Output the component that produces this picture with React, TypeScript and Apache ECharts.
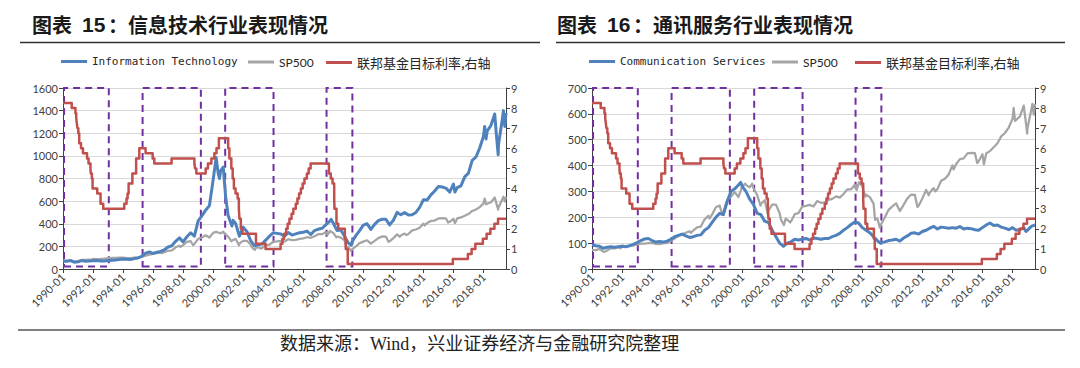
import React, { useEffect, useRef } from "react";
import * as echarts from "echarts";

// ---------- data ----------
const xLabelYears = [1990, 1992, 1994, 1996, 1998, 2000, 2002, 2004, 2006, 2008, 2010, 2012, 2014, 2016, 2018];

// periods framed by the dashed purple boxes (start year, end year)
const shadedPeriods: [number, number][] = [
  [1990.07, 1993.05],
  [1995.3, 1999.18],
  [2000.8, 2004.02],
  [2007.55, 2009.27],
];

const itIndex: [number, number][] = [
  [1990.0, 68], [1990.25, 68], [1990.5, 74], [1990.75, 60], [1991.0, 63], [1991.25, 74], [1991.5, 68], [1991.75, 70],
  [1992.0, 74], [1992.25, 76], [1992.5, 70], [1992.75, 71], [1993.0, 76], [1993.25, 78], [1993.5, 80], [1993.75, 84],
  [1994.0, 88], [1994.25, 86], [1994.5, 84], [1994.75, 92], [1995.0, 98], [1995.25, 112], [1995.5, 140], [1995.75, 150],
  [1996.0, 138], [1996.25, 148], [1996.5, 155], [1996.75, 170], [1997.0, 195], [1997.25, 205], [1997.5, 245], [1997.75, 275],
  [1998.0, 240], [1998.25, 285], [1998.5, 320], [1998.75, 290], [1999.0, 425], [1999.25, 470], [1999.5, 520], [1999.75, 560],
  [2000.0, 790], [2000.2, 985], [2000.33, 850], [2000.42, 800], [2000.5, 870], [2000.67, 900], [2000.83, 640], [2001.0, 470],
  [2001.25, 380], [2001.33, 430], [2001.5, 400], [2001.75, 290], [2002.0, 370], [2002.25, 330], [2002.5, 250], [2002.75, 205],
  [2003.0, 215], [2003.25, 220], [2003.5, 255], [2003.75, 290], [2004.0, 320], [2004.25, 315], [2004.5, 310], [2004.75, 290],
  [2005.0, 322], [2005.25, 300], [2005.5, 310], [2005.75, 320], [2006.0, 325], [2006.25, 335], [2006.5, 305], [2006.75, 340],
  [2007.0, 352], [2007.25, 360], [2007.5, 390], [2007.75, 420], [2007.85, 440], [2008.0, 404], [2008.25, 340], [2008.5, 345],
  [2008.75, 290], [2009.0, 229], [2009.2, 210], [2009.25, 240], [2009.5, 295], [2009.75, 340], [2010.0, 388], [2010.25, 400],
  [2010.5, 350], [2010.75, 395], [2011.0, 428], [2011.25, 440], [2011.5, 440], [2011.75, 390], [2012.0, 431], [2012.25, 500],
  [2012.5, 480], [2012.75, 500], [2013.0, 478], [2013.25, 480], [2013.5, 500], [2013.75, 545], [2014.0, 612], [2014.25, 610],
  [2014.5, 655], [2014.75, 690], [2015.0, 730], [2015.25, 725], [2015.5, 715], [2015.75, 680], [2016.0, 750], [2016.1, 680],
  [2016.25, 720], [2016.5, 735], [2016.75, 815], [2017.0, 847], [2017.25, 960], [2017.5, 990], [2017.75, 1070], [2018.0, 1174],
  [2018.08, 1260], [2018.17, 1150], [2018.25, 1220], [2018.5, 1270], [2018.75, 1370], [2018.85, 1200], [2018.98, 1010],
  [2019.0, 1100], [2019.25, 1320], [2019.33, 1400], [2019.42, 1260], [2019.5, 1380],
];

const sp500: [number, number][] = [
  [1990.0, 74], [1990.25, 73], [1990.5, 78], [1990.62, 72], [1990.8, 66], [1991.0, 71], [1991.25, 81], [1991.5, 80],
  [1991.75, 84], [1991.9, 80], [1992.0, 90], [1992.25, 88], [1992.5, 89], [1992.75, 91], [1993.0, 95], [1993.25, 98],
  [1993.5, 98], [1993.75, 100], [1994.0, 101], [1994.25, 97], [1994.5, 96], [1994.75, 100], [1995.0, 100], [1995.25, 109],
  [1995.5, 118], [1995.75, 127], [1996.0, 134], [1996.25, 140], [1996.5, 146], [1996.58, 140], [1996.75, 149], [1997.0, 161],
  [1997.25, 164], [1997.5, 192], [1997.75, 206], [1997.83, 195], [1998.0, 211], [1998.25, 239], [1998.5, 246], [1998.67, 210],
  [1998.75, 221], [1999.0, 267], [1999.25, 279], [1999.5, 298], [1999.75, 278], [2000.0, 319], [2000.2, 330], [2000.25, 325],
  [2000.5, 316], [2000.67, 330], [2000.75, 312], [2001.0, 286], [2001.22, 245], [2001.25, 252], [2001.5, 266], [2001.72, 210],
  [2001.75, 226], [2002.0, 249], [2002.25, 249], [2002.5, 215], [2002.58, 192], [2002.78, 170], [2002.9, 195], [2003.0, 191],
  [2003.2, 180], [2003.25, 184], [2003.5, 212], [2003.75, 216], [2004.0, 241], [2004.25, 244], [2004.5, 248], [2004.75, 242],
  [2005.0, 263], [2005.25, 256], [2005.5, 258], [2005.75, 267], [2006.0, 271], [2006.25, 281], [2006.5, 276], [2006.75, 290],
  [2007.0, 308], [2007.25, 308], [2007.5, 326], [2007.62, 305], [2007.78, 336], [2008.0, 319], [2008.2, 280], [2008.25, 287],
  [2008.5, 278], [2008.75, 253], [2008.85, 190], [2009.0, 196], [2009.17, 160], [2009.25, 173], [2009.5, 199], [2009.75, 229],
  [2010.0, 242], [2010.25, 254], [2010.5, 224], [2010.75, 248], [2011.0, 273], [2011.25, 288], [2011.5, 287], [2011.67, 240],
  [2011.75, 245], [2012.0, 273], [2012.25, 306], [2012.42, 285], [2012.5, 296], [2012.75, 313], [2012.87, 300], [2013.0, 309],
  [2013.25, 341], [2013.5, 349], [2013.75, 365], [2014.0, 401], [2014.08, 385], [2014.25, 406], [2014.5, 425], [2014.75, 428],
  [2015.0, 447], [2015.25, 449], [2015.5, 448], [2015.65, 410], [2015.75, 417], [2016.0, 444], [2016.1, 405], [2016.25, 447],
  [2016.5, 456], [2016.75, 471], [2017.0, 486], [2017.25, 513], [2017.5, 526], [2017.75, 547], [2018.0, 580], [2018.08, 623],
  [2018.17, 573], [2018.5, 590], [2018.75, 632], [2018.85, 585], [2018.98, 524], [2019.0, 544], [2019.25, 615], [2019.33, 639],
  [2019.42, 597], [2019.5, 638],
];

const commServices: [number, number][] = [
  [1990.0, 94], [1990.25, 90], [1990.5, 88], [1990.75, 80], [1991.0, 84], [1991.25, 86], [1991.5, 84], [1991.75, 86],
  [1992.0, 88], [1992.25, 86], [1992.5, 90], [1992.75, 95], [1993.0, 102], [1993.25, 110], [1993.5, 116], [1993.75, 118],
  [1994.0, 110], [1994.25, 104], [1994.5, 106], [1994.75, 104], [1995.0, 108], [1995.25, 115], [1995.5, 125], [1995.75, 130],
  [1996.0, 135], [1996.25, 128], [1996.5, 122], [1996.75, 125], [1997.0, 130], [1997.25, 132], [1997.5, 150], [1997.75, 160],
  [1998.0, 180], [1998.25, 200], [1998.5, 215], [1998.75, 210], [1999.0, 260], [1999.25, 300], [1999.5, 310], [1999.75, 325],
  [1999.9, 335], [2000.0, 320], [2000.25, 300], [2000.5, 270], [2000.75, 250], [2001.0, 215], [2001.25, 210], [2001.5, 185],
  [2001.75, 180], [2002.0, 150], [2002.25, 125], [2002.5, 100], [2002.75, 88], [2003.0, 100], [2003.25, 105], [2003.5, 115],
  [2003.75, 112], [2004.0, 115], [2004.25, 118], [2004.5, 112], [2004.75, 120], [2005.0, 118], [2005.25, 115], [2005.5, 118],
  [2005.75, 118], [2006.0, 125], [2006.25, 130], [2006.5, 138], [2006.75, 150], [2007.0, 160], [2007.25, 172], [2007.5, 182],
  [2007.75, 178], [2008.0, 160], [2008.25, 150], [2008.5, 140], [2008.75, 125], [2009.0, 110], [2009.2, 100], [2009.25, 102],
  [2009.5, 105], [2009.75, 110], [2010.0, 112], [2010.25, 115], [2010.5, 108], [2010.75, 120], [2011.0, 128], [2011.25, 138],
  [2011.5, 140], [2011.75, 135], [2012.0, 145], [2012.25, 150], [2012.5, 158], [2012.75, 165], [2013.0, 155], [2013.25, 162],
  [2013.5, 160], [2013.75, 158], [2014.0, 160], [2014.25, 158], [2014.5, 164], [2014.75, 155], [2015.0, 158], [2015.25, 156],
  [2015.5, 152], [2015.75, 150], [2016.0, 160], [2016.25, 170], [2016.5, 178], [2016.75, 168], [2017.0, 170], [2017.25, 162],
  [2017.5, 158], [2017.75, 152], [2018.0, 160], [2018.25, 150], [2018.5, 152], [2018.75, 160], [2018.9, 145], [2019.0, 150],
  [2019.25, 165], [2019.5, 170],
];

// Federal funds target rate (%), value holds until the next change
const fedFundsRate: [number, number][] = [
  [1990.0, 8.25], [1990.58, 8.0], [1990.83, 7.75], [1990.88, 7.5], [1990.92, 7.25], [1990.96, 7.0],
  [1991.02, 6.75], [1991.08, 6.25], [1991.2, 6.0], [1991.33, 5.75], [1991.6, 5.5], [1991.7, 5.25],
  [1991.83, 5.0], [1991.85, 4.75], [1991.92, 4.5], [1991.97, 4.0], [1992.28, 3.75], [1992.5, 3.25],
  [1992.68, 3.0], [1994.08, 3.25], [1994.23, 3.5], [1994.3, 3.75], [1994.37, 4.25], [1994.62, 4.75],
  [1994.87, 5.5], [1995.08, 6.0], [1995.5, 5.75], [1995.97, 5.5], [1996.08, 5.25], [1997.23, 5.5],
  [1998.75, 5.25], [1998.79, 5.0], [1998.88, 4.75], [1999.5, 5.0], [1999.65, 5.25], [1999.88, 5.5],
  [2000.08, 5.75], [2000.22, 6.0], [2000.38, 6.5], [2001.0, 6.0], [2001.08, 5.5], [2001.21, 5.0],
  [2001.3, 4.5], [2001.38, 4.0], [2001.49, 3.75], [2001.63, 3.5], [2001.71, 3.0], [2001.75, 2.5],
  [2001.84, 2.0], [2001.95, 1.75], [2002.85, 1.25], [2003.49, 1.0], [2004.49, 1.25], [2004.61, 1.5],
  [2004.72, 1.75], [2004.86, 2.0], [2004.96, 2.25], [2005.08, 2.5], [2005.22, 2.75], [2005.34, 3.0],
  [2005.5, 3.25], [2005.61, 3.5], [2005.72, 3.75], [2005.84, 4.0], [2005.96, 4.25], [2006.08, 4.5],
  [2006.24, 4.75], [2006.36, 5.0], [2006.49, 5.25], [2007.71, 4.75], [2007.83, 4.5], [2007.95, 4.25],
  [2008.06, 3.5], [2008.08, 3.0], [2008.21, 2.25], [2008.33, 2.0], [2008.77, 1.5], [2008.83, 1.0],
  [2008.96, 0.25], [2015.96, 0.5], [2016.96, 0.75], [2017.21, 1.0], [2017.46, 1.25], [2017.96, 1.5],
  [2018.21, 1.75], [2018.46, 2.0], [2018.73, 2.25], [2018.97, 2.5], [2019.5, 2.5],
];

const NAME_IT = "Information Technology";
const NAME_CS = "Communication Services";
const NAME_SP = "SP500";
const NAME_FED = "联邦基金目标利率,右轴";

// ---------- styling ----------
const C_BLUE = "#4F81BD";
const C_GRAY = "#A5A5A5";
const C_RED = "#C0504D";
const C_PURPLE = "#7030A0";
const C_AXIS = "#404040";
const NUM_FONT = "Lato, 'Noto Sans', sans-serif";
const CJK = "'Noto Sans CJK SC', sans-serif";

function xAxisFor(gridIndex: number) {
  return {
    type: "value",
    gridIndex,
    min: 1990,
    max: 2019.5,
    interval: 2,
    axisLine: { show: true, onZero: false, lineStyle: { color: C_AXIS, width: 1 } },
    axisTick: { show: true, length: 4, customValues: xLabelYears, lineStyle: { color: C_AXIS } },
    axisLabel: {
      customValues: xLabelYears,
      rotate: 45,
      margin: 6,
      fontSize: 11,
      color: C_AXIS,
      fontFamily: NUM_FONT,
      formatter: (v: number) => (Number.isInteger(v) && v % 2 === 0 ? `${v}-01` : ""),
    },
    splitLine: { show: false },
  };
}

function leftY(gridIndex: number, max: number, interval: number) {
  return {
    type: "value",
    gridIndex,
    position: "left",
    min: 0,
    max,
    interval,
    axisLine: { show: true, lineStyle: { color: C_AXIS } },
    axisTick: { show: true, length: 4, lineStyle: { color: C_AXIS } },
    axisLabel: { fontSize: 11, color: C_AXIS, fontFamily: NUM_FONT, margin: 5, formatter: (v: number) => String(v) },
    splitLine: { show: true, lineStyle: { color: "#D9D9D9", width: 1 } },
  };
}

function rightY(gridIndex: number) {
  return {
    type: "value",
    gridIndex,
    position: "right",
    min: 0,
    max: 9,
    interval: 1,
    axisLine: { show: true, lineStyle: { color: C_AXIS } },
    axisTick: { show: true, length: 4, lineStyle: { color: C_AXIS } },
    axisLabel: { fontSize: 11, color: C_AXIS, fontFamily: NUM_FONT, margin: 5, formatter: (v: number) => String(v) },
    splitLine: { show: false },
  };
}

function lineSeries(name: string, data: [number, number][], xi: number, yi: number, color: string, width: number, extra: any = {}) {
  return {
    type: "line",
    name,
    data,
    xAxisIndex: xi,
    yAxisIndex: yi,
    showSymbol: false,
    symbol: "none",
    silent: true,
    lineStyle: { color, width, join: "round" },
    itemStyle: { color },
    ...extra,
  };
}

const boxes = {
  silent: true,
  label: { show: false },
  itemStyle: { color: "rgba(0,0,0,0)", borderColor: C_PURPLE, borderWidth: 2, borderType: [7, 5] },
  data: shadedPeriods.map(([a, b]) => [
    { xAxis: a, yAxis: 0.12 },
    { xAxis: b, yAxis: 9 },
  ]),
};

function legendItem(name: string, left: number, font: any) {
  return {
    data: [name],
    left,
    top: 56,
    padding: 0,
    icon: "rect",
    itemWidth: 26,
    itemHeight: 3,
    textStyle: { color: "#262626", ...font },
  };
}

const monoFont = { fontFamily: "'DejaVu Sans Mono', monospace", fontSize: 11 };
const spFont = { fontFamily: NUM_FONT, fontSize: 12 };
const cjkFont = { fontFamily: CJK, fontSize: 13 };

function titleTexts(x: number, num: string, rest: string) {
  const base = { fill: "#1a1a1a", fontWeight: "bold", verticalAlign: "middle" };
  return [
    { type: "text", x, y: 24, style: { ...base, text: "图表", fontSize: 20, fontFamily: CJK } },
    { type: "text", x: x + 50, y: 24, style: { ...base, text: num, fontSize: 21, fontFamily: "'Liberation Sans', Arial, sans-serif" } },
    { type: "text", x: x + 76, y: 24, style: { ...base, text: rest, fontSize: 20, fontFamily: CJK } },
  ];
}

const option: any = {
  animation: false,
  backgroundColor: "#ffffff",
  grid: [
    { left: 63, top: 88, width: 443, height: 181 },
    { left: 592, top: 88, width: 443, height: 181 },
  ],
  xAxis: [xAxisFor(0), xAxisFor(1)],
  yAxis: [leftY(0, 1600, 200), rightY(0), leftY(1, 700, 100), rightY(1)],
  legend: [
    legendItem(NAME_IT, 61, monoFont),
    legendItem(NAME_SP, 248, spFont),
    legendItem(NAME_FED, 326, cjkFont),
    legendItem(NAME_CS, 589, monoFont),
    legendItem(NAME_SP, 772, spFont),
    legendItem(NAME_FED, 855, cjkFont),
  ],
  series: [
    lineSeries(NAME_SP, sp500, 0, 0, C_GRAY, 2.25),
    lineSeries(NAME_IT, itIndex, 0, 0, C_BLUE, 3),
    lineSeries(NAME_FED, fedFundsRate, 0, 1, C_RED, 2.5, { step: "end", markArea: boxes }),
    lineSeries(NAME_SP, sp500, 1, 2, C_GRAY, 2.25),
    lineSeries(NAME_CS, commServices, 1, 2, C_BLUE, 3),
    lineSeries(NAME_FED, fedFundsRate, 1, 3, C_RED, 2.5, { step: "end", markArea: boxes }),
  ],
  graphic: [
    ...titleTexts(32, "15", "：信息技术行业表现情况"),
    ...titleTexts(557, "16", "：通讯服务行业表现情况"),
    { type: "line", shape: { x1: 20, y1: 42.5, x2: 540, y2: 42.5 }, style: { stroke: "#333333", lineWidth: 1.5 } },
    { type: "line", shape: { x1: 556, y1: 42.5, x2: 1065, y2: 42.5 }, style: { stroke: "#333333", lineWidth: 1.5 } },
    { type: "line", shape: { x1: 18, y1: 330, x2: 1065, y2: 330 }, style: { stroke: "#808080", lineWidth: 2 } },
    {
      type: "text",
      x: 280,
      y: 344,
      style: {
        text: "数据来源：Wind，兴业证券经济与金融研究院整理",
        fontSize: 18,
        fontFamily: "'Liberation Serif', 'Noto Sans CJK SC', serif",
        fill: "#222222",
        verticalAlign: "middle",
      },
    },
  ],
};

export default function App() {
  const ref = useRef<HTMLDivElement>(null);
  useEffect(() => {
    if (!ref.current) return;
    const chart = echarts.init(ref.current, null, { renderer: "svg" });
    chart.setOption(option);
    return () => chart.dispose();
  }, []);
  return (
    <div
      ref={ref}
      style={{ position: "fixed", left: 0, top: 0, width: 1080, height: 368, background: "#fff" }}
    />
  );
}
